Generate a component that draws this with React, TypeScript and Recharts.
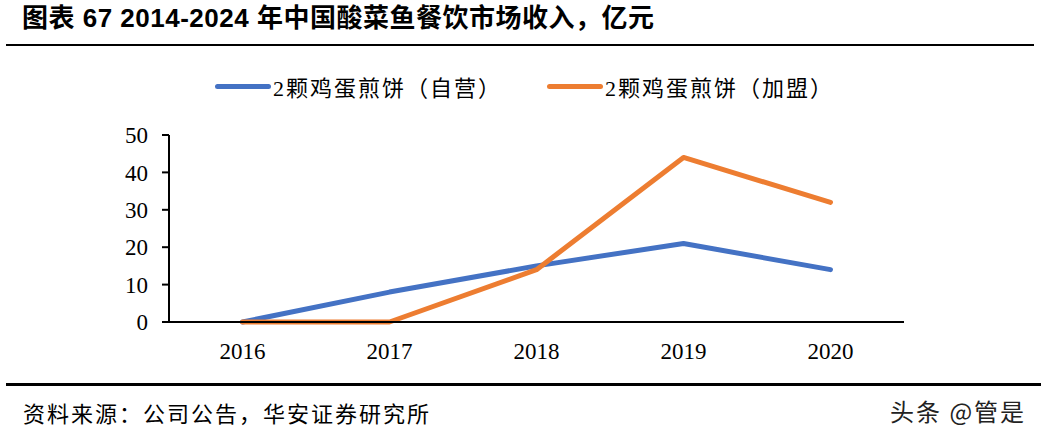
import React from 'react';
import { LineChart, Line, XAxis, YAxis } from 'recharts';

const years = ['2016', '2017', '2018', '2019', '2020'];
const selfRun = [0, 8, 15, 21, 14];
const franchise = [0, 0, 14, 44, 32];
const yTicks = [0, 10, 20, 30, 40, 50];
const boundaryTicks = [0, 1, 2, 3, 4, 5];
const seriesNames = ['2颗鸡蛋煎饼（自营）', '2颗鸡蛋煎饼（加盟）'];
const seriesColors = ['#4472C4', '#ED7D31'];
const title = '图表 67 2014-2024 年中国酸菜鱼餐饮市场收入，亿元';
const source = '资料来源：公司公告，华安证券研究所';
const watermark = '头条 @管是';

const data = years.map((y, i) => ({ year: y, a: selfRun[i], b: franchise[i] }));

const serif = '"Liberation Serif", "Noto Sans CJK SC", serif';
const sans = '"Liberation Sans", "Noto Sans CJK SC", sans-serif';

export default function App() {
  return (
    <div style={{ position: 'absolute', left: 0, top: 0, width: 1041, height: 438, background: '#fff', overflow: 'hidden' }}>
      <div style={{ position: 'absolute', left: 22, top: 2, fontFamily: sans, fontWeight: 700, fontSize: 26, letterSpacing: 0.5, lineHeight: '32px', color: '#000', whiteSpace: 'nowrap' }}>
        {title}
      </div>
      <div style={{ position: 'absolute', left: 6, top: 44, width: 1028, height: 2, background: '#000' }} />
      <div style={{ position: 'absolute', left: 0, top: 72, width: 1041, height: 28 }}>
        {seriesNames.map((n, i) => (
          <div key={n} style={{ position: 'absolute', left: i === 0 ? 215 : 547, top: 0, display: 'flex', alignItems: 'center', height: 28 }}>
            <div style={{ width: 56, height: 5, borderRadius: 3, background: seriesColors[i] }} />
            <span style={{ marginLeft: 2, fontFamily: serif, fontSize: 22, letterSpacing: 2, color: '#000', whiteSpace: 'nowrap' }}>{n}</span>
          </div>
        ))}
      </div>
      <div style={{ position: 'absolute', left: 0, top: 0 }}>
        <LineChart width={1041} height={438} data={data} margin={{ top: 135, right: 137, bottom: 76, left: 109 }}>
          <XAxis
            xAxisId="axis1"
            type="number"
            domain={[0, 5]}
            ticks={boundaryTicks}
            allowDataOverflow
            height={1}
            tick={false}
            tickSize={7}
            axisLine={{ stroke: '#000', strokeWidth: 2 }}
            tickLine={{ stroke: '#000', strokeWidth: 2 }}
          />
          <XAxis
            xAxisId="axis2"
            dataKey="year"
            scale="band"
            height={39}
            axisLine={false}
            tickLine={false}
            tickSize={7}
            tickMargin={13}
            interval={0}
            tick={{ fontSize: 23, fill: '#000', fontFamily: serif }}
          />
          <YAxis
            width={60}
            domain={[0, 50]}
            ticks={yTicks}
            interval={0}
            tickSize={7}
            tickMargin={14}
            axisLine={{ stroke: '#000', strokeWidth: 2 }}
            tickLine={{ stroke: '#000', strokeWidth: 2 }}
            tick={{ fontSize: 23, fill: '#000', fontFamily: serif }}
          />
          <Line xAxisId="axis2" type="linear" dataKey="a" name={seriesNames[0]} stroke={seriesColors[0]} strokeWidth={5} strokeLinecap="round" strokeLinejoin="round" dot={false} activeDot={false} isAnimationActive={false} />
          <Line xAxisId="axis2" type="linear" dataKey="b" name={seriesNames[1]} stroke={seriesColors[1]} strokeWidth={5} strokeLinecap="round" strokeLinejoin="round" dot={false} activeDot={false} isAnimationActive={false} />
        </LineChart>
      </div>
      <div style={{ position: 'absolute', left: 6, top: 383, width: 1035, height: 3, background: '#000' }} />
      <div style={{ position: 'absolute', left: 23, top: 396, fontFamily: '"Noto Sans CJK SC", sans-serif', fontSize: 22, letterSpacing: 2, lineHeight: '32px', color: '#000', whiteSpace: 'nowrap' }}>
        {source}
      </div>
      <div style={{ position: 'absolute', left: 890, top: 395, fontFamily: '"Noto Sans CJK SC", sans-serif', fontSize: 24, letterSpacing: 2, lineHeight: '32px', color: '#222', whiteSpace: 'nowrap' }}>
        {watermark}
      </div>
    </div>
  );
}
